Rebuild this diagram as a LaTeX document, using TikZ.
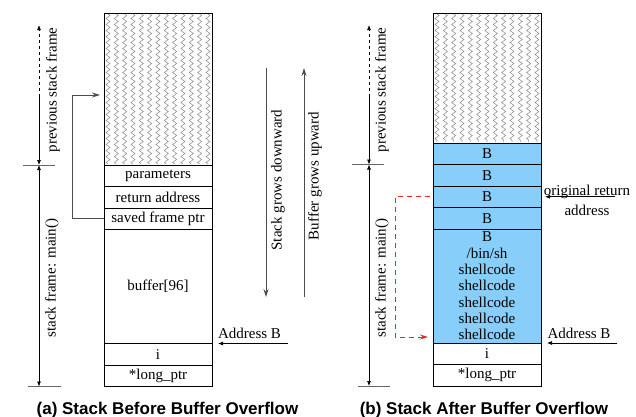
\documentclass[tikz,border=0pt]{standalone}
\usepackage{fontspec}
\setmainfont{Liberation Serif}
\newfontfamily\capfont{Liberation Sans}
\usetikzlibrary{positioning,arrows.meta,decorations.pathmorphing}
\definecolor{fillblue}{RGB}{135,206,250}
\definecolor{zzgray}{RGB}{150,150,150}
\definecolor{ptrred}{RGB}{230,40,40}

\begin{document}
\begin{tikzpicture}[
    x=1pt, y=-1pt, >={Latex[length=5pt,width=4pt]},
    cell/.style={draw, line width=0.9pt, minimum width=108pt, minimum height=21.5pt,
      inner sep=0pt, outer sep=0pt, font=\fontsize{15}{16.3}\selectfont},
    bcell/.style={cell, fill=fillblue},
    hatchcell/.style={draw, line width=0.9pt, minimum width=108pt, inner sep=0pt, outer sep=0pt},
    zz/.style={zzgray, line width=0.6pt, decorate,
      decoration={zigzag, segment length=6pt, amplitude=2pt}},
    lbl/.style={font=\fontsize{15}{16}\selectfont, inner sep=0pt},
    sidelbl/.style={lbl, rotate=90},
    tickline/.style={gray!80!black, line width=0.9pt},
    dimline/.style={line width=0.7pt},
    growline/.style={gray!60!black, line width=0.9pt},
    ptrtip/.style={-{Stealth[length=8pt,width=5pt]}},
    redptr/.style={ptrred, line width=0.9pt, dash pattern=on 5pt off 4pt},
    caption/.style={font=\capfont\bfseries\fontsize{17}{18}\selectfont, anchor=base}
  ]
\useasboundingbox (0,0) rectangle (636,416);

% (a) stack before the overflow
\node[hatchcell, minimum height=152pt] (prevA) at (158,89) {};
\node[cell, below=0pt of prevA] (parA) {parameters};
\node[cell, below=0pt of parA] (retA) {return address};
\node[cell, below=0pt of retA] (sfpA) {saved frame ptr};
\node[cell, below=0pt of sfpA, minimum height=114pt] (bufA) {buffer[96]};
\node[cell, below=0pt of bufA] (iA) {i};
\node[cell, below=0pt of iA] (lpA) {*long\_ptr};
\foreach \k in {0,...,12}
  \draw[zz] ([xshift=4pt+\k*8.33pt, yshift=-1pt]prevA.north west)
         -- ([xshift=4pt+\k*8.33pt, yshift=1pt]prevA.south west);

% frame sizes, left
\coordinate (topA) at (39,25);
\coordinate (dashA) at (39,97);
\coordinate (splitA) at (topA |- parA.north);
\coordinate (botA) at (topA |- lpA.south);
\draw[dimline, dashed, ->] (dashA) -- (topA);
\draw[dimline, ->] (dashA) -- (splitA);
\draw[dimline, <->] (splitA) -- (botA);
\draw[tickline] ([xshift=-16pt]splitA) -- ([xshift=16pt]splitA);
\draw[tickline] ([xshift=-11pt]botA) -- ([xshift=22pt]botA);
\node[sidelbl] (prevlblA) at (53,90) {previous stack frame};
\node[sidelbl] (mainlblA) at (52,278) {stack frame: main()};

\draw[growline, ptrtip] (sfpA.west) -- ++(-32,0) |- ([xshift=-4pt,yshift=-6pt]prevA.west);

% growth directions
\coordinate (stacktop) at (266,68);
\coordinate (stackbot) at (266,297);
\coordinate (buftop) at (304,68);
\coordinate (bufbot) at (304,297);
\draw[growline, ptrtip] (stacktop) -- (stackbot);
\draw[growline, ptrtip] (bufbot) -- (buftop);
\node[sidelbl] (stacklbl) at (278,180) {Stack grows downward};
\node[sidelbl] (buflbl) at (315,176) {Buffer grows upward};

\coordinate (addrA) at ([xshift=76pt]bufA.south east);
\draw[dimline, ->] (addrA) -- ([xshift=6pt]bufA.south east);
\node[lbl, anchor=base] (addrlblA) at (249.5,338) {Address B};

\node[caption] (capA) at (167.5,414) {(a) Stack Before Buffer Overflow};

% (b) stack after the overflow
\node[hatchcell, minimum height=130pt] (prevB) at (487,78) {};
\node[bcell, below=0pt of prevB] (b1B) {B};
\node[bcell, below=0pt of b1B] (b2B) {B};
\node[bcell, below=0pt of b2B] (b3B) {B};
\node[bcell, below=0pt of b3B] (b4B) {B};
\node[bcell, below=0pt of b4B, minimum height=114pt, align=center] (shellB)
  {B\\/bin/sh\\shellcode\\shellcode\\shellcode\\shellcode\\shellcode};
\node[cell, below=0pt of shellB] (iB) {i};
\node[cell, below=0pt of iB] (lpB) {*long\_ptr};
\foreach \k in {0,...,12}
  \draw[zz] ([xshift=4pt+\k*8.33pt, yshift=-1pt]prevB.north west)
         -- ([xshift=4pt+\k*8.33pt, yshift=1pt]prevB.south west);

% frame sizes, right
\coordinate (topB) at (369,25);
\coordinate (dashB) at (369,97);
\coordinate (splitB) at (topB |- b2B.north);
\coordinate (botB) at (topB |- lpB.south);
\draw[dimline, dashed, ->] (dashB) -- (topB);
\draw[dimline, ->] (dashB) -- (splitB);
\draw[dimline, <->] (splitB) -- (botB);
\draw[tickline] ([xshift=-17pt]splitB) -- ([xshift=15pt]splitB);
\draw[tickline] ([xshift=-11pt]botB) -- ([xshift=21pt]botB);
\node[sidelbl] (prevlblB) at (382,90) {previous stack frame};
\node[sidelbl] (mainlblB) at (382,278) {stack frame: main()};

\draw[redptr, ptrtip] ([xshift=-3pt]b3B.west) -- ++(-35,0)
  |- ([xshift=-5pt,yshift=6pt]shellB.south west);

\coordinate (origB) at ([xshift=74pt]b3B.east);
\draw[dimline, ->] (origB) -- ([xshift=4pt]b3B.east);
\node[lbl, anchor=base] (origlblB) at (587,195) {original return};
\node[lbl, anchor=base] (addrlbl2B) at (587,215) {address};

\coordinate (addrB) at ([xshift=76pt]shellB.south east);
\draw[dimline, ->] (addrB) -- ([xshift=6pt]shellB.south east);
\node[lbl, anchor=base] (addrlblB) at (579,338) {Address B};

\node[caption] (capB) at (484,414) {(b) Stack After Buffer Overflow};
\end{tikzpicture}
\end{document}
